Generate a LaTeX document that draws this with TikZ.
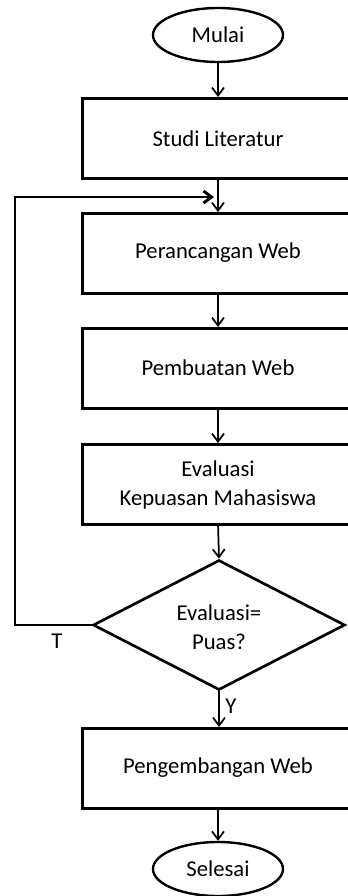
\documentclass[tikz,border=0pt]{standalone}
\usepackage{fontspec}
\setmainfont{Carlito}
\usetikzlibrary{arrows.meta,shapes.geometric}
\begin{document}
\begin{tikzpicture}[x=0.75pt,y=-0.75pt,
  box/.style={draw,line width=2pt,minimum width=276*0.75pt,minimum height=80*0.75pt,anchor=north west,inner sep=0pt},
  term/.style={draw,ellipse,line width=1.8pt,minimum width=130*0.75pt,minimum height=54*0.75pt,inner sep=0pt},
  dec/.style={draw,diamond,line width=2pt,minimum width=252*0.75pt,minimum height=130*0.75pt,inner sep=0pt,aspect=1.94},
  arr/.style={-{Straight Barb[length=6pt,width=9pt]},line width=1.3pt},
  every node/.style={font=\fontsize{17pt}{22pt}\selectfont,align=center}]
\useasboundingbox (0,0) rectangle (348,896);
\node[term] (mulai) at (218,35) {Mulai};
\node[box] (studi) at (81,97) {};
\node at (218,139) {Studi Literatur};
\node[box] (rancang) at (81,212) {};
\node at (218,253) {Perancangan Web};
\node[box] (buat) at (81,327) {};
\node at (218,368) {Pembuatan Web};
\node[box] (eval) at (81,443) {};
\node at (218,485) {Evaluasi\\Kepuasan Mahasiswa};
\node[dec] (puas) at (219,625) {};
\node at (219,627) {Evaluasi=\\Puas?};
\node[box] (kembang) at (81,727) {};
\node at (218,768) {Pengembangan Web};
\node[term] (selesai) at (218,869) {Selesai};
\coordinate (c1) at (15,625);
\coordinate (c2) at (15,197);
\coordinate (c3) at (214,197);
\draw[arr] (mulai.south) -- (218,97);
\draw[arr] (218,178) -- (218,212);
\draw[arr] (218,292) -- (218,327);
\draw[arr] (218,407) -- (218,443);
\draw[arr] (218,523) -- (puas.north);
\draw[arr] (puas.south) -- (219,727);
\draw[arr] (218,807) -- (selesai.north);
\draw[line width=2.2pt] (puas.west) -- (c1) -- (c2) -- (150,197);
\draw[arr,line width=2.2pt] (150,197) -- (c3);
\node at (57,641) {T};
\node at (231,706) {Y};
\end{tikzpicture}
\end{document}
